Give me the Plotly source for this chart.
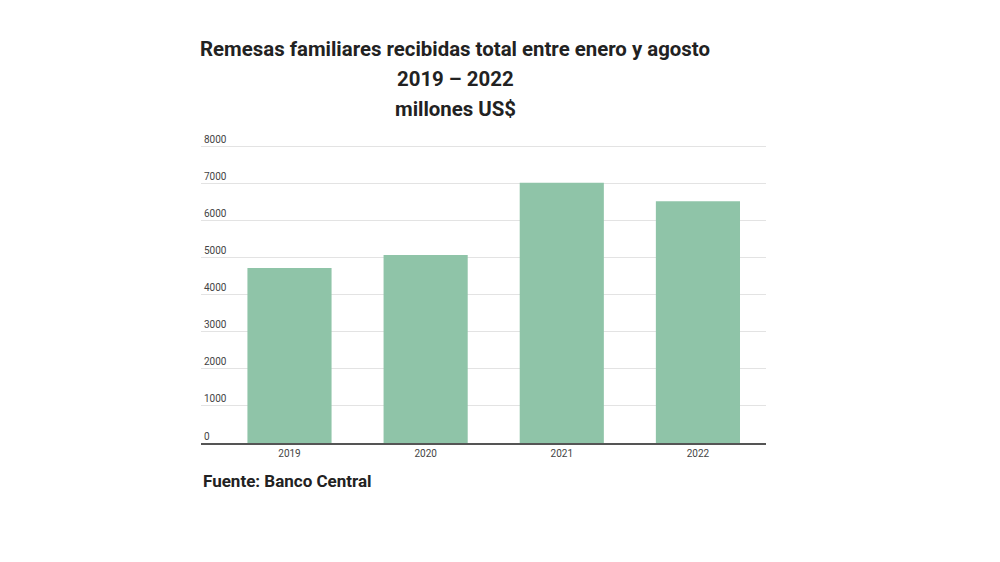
import plotly.graph_objects as go

# Remesas familiares, enero-agosto, millones US$
years = ["2019", "2020", "2021", "2022"]
remesas = [4730, 5080, 7030, 6530]
y_ticks = [0, 1000, 2000, 3000, 4000, 5000, 6000, 7000, 8000]

title_lines = [
    "Remesas familiares recibidas total entre enero y agosto",
    "2019 – 2022",
    "millones US$",
]
source = "Fuente: Banco Central"

fig = go.Figure()

fig.add_trace(go.Bar(
    x=years,
    y=remesas,
    marker=dict(color="#8fc4a8", line=dict(width=0)),
    width=0.618,
    hoverinfo="x+y",
))

# page body adds an 8px offset, so margins are shifted by that
fig.update_layout(
    width=1000,
    height=562,
    margin=dict(l=193, r=242, t=124.2, b=127),
    paper_bgcolor="white",
    plot_bgcolor="white",
    font=dict(family="Roboto", color="#444"),
    showlegend=False,
)

fig.update_xaxes(
    type="category",
    range=[-0.65, 3.5],
    showgrid=False,
    showline=True,
    linecolor="#555",
    linewidth=2,
    ticks="",
    tickfont=dict(size=10, color="#444"),
    fixedrange=True,
)

# extra headroom above 8000 so its label (drawn above the line) is kept
fig.update_yaxes(
    range=[0, 8400],
    tickvals=y_ticks,
    ticklabelposition="inside top",
    showgrid=True,
    gridcolor="#e3e3e3",
    gridwidth=1,
    zeroline=False,
    showline=False,
    ticks="",
    tickfont=dict(size=10, color="#444"),
    fixedrange=True,
)

# Title, one annotation per line so the spacing matches
for line, shift in zip(title_lines, [83.2, 53.2, 23.2]):
    fig.add_annotation(
        text="<b>" + line + "</b>",
        xref="paper", yref="paper",
        x=0.4504, y=1,
        yshift=shift,
        xanchor="center", yanchor="middle",
        showarrow=False,
        font=dict(family="Roboto", size=20.4, color="#222"),
    )

# Source
fig.add_annotation(
    text="<b>" + source + "</b>",
    xref="paper", yref="paper",
    x=0, y=0,
    yshift=-38,
    xanchor="left", yanchor="middle",
    showarrow=False,
    font=dict(family="Roboto", size=17, color="#222"),
)

fig.write_html("out.html")
